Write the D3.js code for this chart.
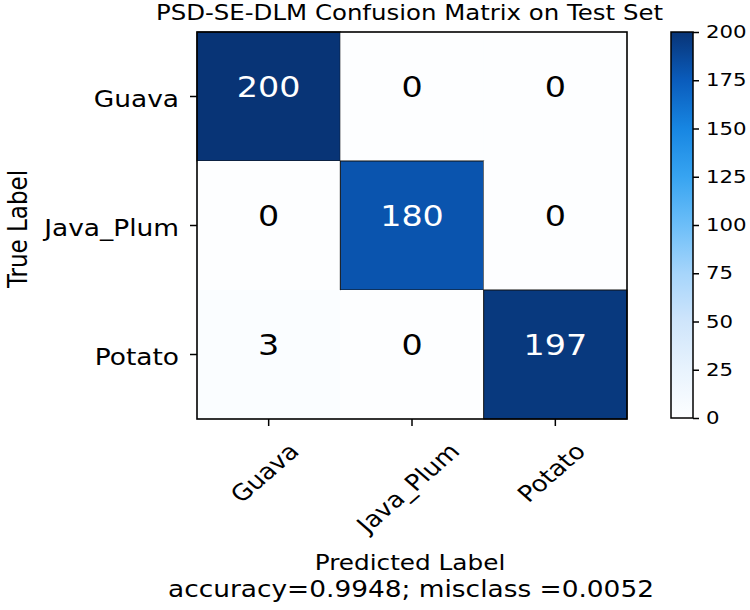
<!DOCTYPE html>
<html><head><meta charset="utf-8">
<script src="https://cdn.jsdelivr.net/npm/d3@7"></script>
<style>body{margin:0;background:#fff}svg{display:block}text{font-family:"DejaVu Sans",sans-serif;fill:#000}</style>
</head><body><svg id="c" width="750" height="610"></svg>
<script>
const classes = ["Guava", "Java_Plum", "Potato"];
const matrix = [[200, 0, 0], [0, 180, 0], [3, 0, 197]];
const cbarTicks = [0, 25, 50, 75, 100, 125, 150, 175, 200];
const cmapStops = ["#fdfeff", "#e8f3fd", "#cfe5fb", "#a6d5fb", "#6cbef8", "#37a4f1", "#1786e2", "#0a5cbc", "#083476"];
const titleText = "PSD-SE-DLM Confusion Matrix on Test Set";
const xTitle = "Predicted Label";
const yTitle = "True Label";
const footer = "accuracy=0.9948; misclass =0.0052";

const svg = d3.select("#c");
const SX = 1.15; // horizontal stretch of the reference rendering
const L = 197, R = 627, T = 32, B = 419;
const x = d3.scaleBand().domain(classes).range([L, R]);
const y = d3.scaleBand().domain(classes).range([T, B]);
const color = d3.scaleLinear().domain(cbarTicks).range(cmapStops).interpolate(d3.interpolateRgb);

function stretchText(sel, px, py, rot) {
  sel.attr("x", 0).attr("y", 0)
    .attr("transform", `translate(${px},${py}) scale(${SX},1)` + (rot ? ` rotate(${rot})` : ""));
}

const cells = [];
matrix.forEach((row, i) => row.forEach((v, j) => cells.push({r: classes[i], c: classes[j], v})));

svg.selectAll("rect.cell").data(cells).join("rect")
  .attr("x", d => x(d.c)).attr("y", d => y(d.r))
  .attr("width", x.bandwidth()).attr("height", y.bandwidth())
  .attr("fill", d => color(d.v))
  .attr("stroke", d => d.v > 100 ? "#111" : "none").attr("stroke-width", 1);

svg.selectAll("text.val").data(cells).join("text")
  .attr("text-anchor", "middle")
  .style("font-size", "29px")
  .style("fill", d => d.v > 100 ? "#fff" : "#000")
  .text(d => d.v)
  .each(function(d) { stretchText(d3.select(this), x(d.c) + x.bandwidth() / 2, y(d.r) + y.bandwidth() / 2); });

// frame
svg.append("rect").attr("x", L).attr("y", T).attr("width", R - L).attr("height", B - T)
  .attr("fill", "none").attr("stroke", "#000").attr("stroke-width", 1.6);

// y axis
const yAx = svg.append("g").attr("transform", `translate(${L},0)`)
  .call(d3.axisLeft(y).tickSize(7).tickFormat(""));
yAx.select(".domain").remove();
yAx.selectAll("line").attr("stroke", "#000").attr("stroke-width", 1.5);
svg.append("g").selectAll("text").data(classes).join("text")
  .attr("text-anchor", "end").style("font-size", "23px").text(d => d)
  .each(function(d) { stretchText(d3.select(this), 179, y(d) + y.bandwidth() / 2 + 10); });

// x axis
const xAx = svg.append("g").attr("transform", `translate(0,${B})`)
  .call(d3.axisBottom(x).tickSize(7).tickFormat(""));
xAx.select(".domain").remove();
xAx.selectAll("line").attr("stroke", "#000").attr("stroke-width", 1.5);
svg.append("g").selectAll("text").data(classes).join("text")
  .attr("text-anchor", "middle").attr("dominant-baseline", "central")
  .style("font-size", "22.5px").text(d => d)
  .each(function(d) {
    const w = this.getComputedTextLength(), h = 22 * 0.8;
    const cy = 441 + (w + h) / (2 * Math.SQRT2);
    stretchText(d3.select(this), x(d) + x.bandwidth() / 2 - 4, cy, -45);
  });

// axis titles
svg.append("text").attr("text-anchor", "middle").style("font-size", "21.5px").text(xTitle)
  .call(s => stretchText(s, 410, 570));
svg.append("text").attr("text-anchor", "middle").style("font-size", "23px").text(footer)
  .attr("textLength", 486).attr("lengthAdjust", "spacingAndGlyphs")
  .attr("x", 411).attr("y", 597);
svg.append("text").attr("text-anchor", "middle").style("font-size", "23px").text(yTitle)
  .attr("transform", `translate(27,229) scale(1.19,1) rotate(-90)`);
svg.append("text").attr("text-anchor", "middle").style("font-size", "22px").text(titleText)
  .attr("textLength", 507).attr("lengthAdjust", "spacingAndGlyphs")
  .attr("x", 409.5).attr("y", 20);

// colorbar
const cbL = 671, cbW = 22;
const cy2 = d3.scaleLinear().domain([0, 200]).range([B - 1, T]);
const grad = svg.append("defs").append("linearGradient").attr("id", "g")
  .attr("x1", 0).attr("y1", 1).attr("x2", 0).attr("y2", 0);
grad.selectAll("stop").data(cbarTicks).join("stop")
  .attr("offset", d => d / 200).attr("stop-color", d => color(d));
svg.append("rect").attr("x", cbL).attr("y", T).attr("width", cbW).attr("height", B - 1 - T)
  .attr("fill", "url(#g)").attr("stroke", "#000").attr("stroke-width", 1.5);
const cAx = svg.append("g").attr("transform", `translate(${cbL + cbW},0)`)
  .call(d3.axisRight(cy2).tickValues(cbarTicks).tickSize(6).tickFormat(""));
cAx.select(".domain").remove();
cAx.selectAll("line").attr("stroke", "#000").attr("stroke-width", 1.5);
svg.append("g").selectAll("text").data(cbarTicks).join("text")
  .attr("text-anchor", "start").attr("dominant-baseline", "central")
  .style("font-size", "18.5px").text(d => d)
  .each(function(d) { stretchText(d3.select(this), 706, cy2(d)); });
</script></body></html>
